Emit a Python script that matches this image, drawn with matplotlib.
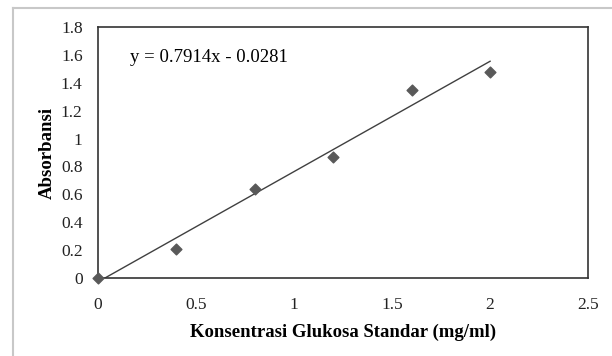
import matplotlib
matplotlib.use("Agg")
import matplotlib.pyplot as plt
from matplotlib.lines import Line2D
import numpy as np

conc = [0.0, 0.4, 0.8, 1.2, 1.6, 2.0]
absorb = [0.0, 0.21, 0.635, 0.865, 1.345, 1.48]
slope = 0.7914
intercept = -0.0281
xticks = [0, 0.5, 1, 1.5, 2, 2.5]
yticks = [0, 0.2, 0.4, 0.6, 0.8, 1, 1.2, 1.4, 1.6, 1.8]

plt.rcParams['font.family'] = ['Liberation Serif', 'DejaVu Serif']

fig = plt.figure(figsize=(6.12, 3.56), dpi=100)
ax = fig.add_axes([0.160, 0.219, 0.801, 0.705])

xl = np.array([0.0, 2.0])
ax.plot(xl, slope * xl + intercept, color='#404040', lw=1.0, zorder=2)
ax.scatter(conc, absorb, marker='D', s=30, color='#595959', zorder=3, clip_on=False)

ax.set_xlim(0, 2.5)
ax.set_ylim(0, 1.8)
ax.set_xticks(xticks)
ax.set_xticklabels([f"{v:g}" for v in xticks])
ax.set_yticks(yticks)
ax.set_yticklabels([f"{v:g}" for v in yticks])
ax.tick_params(length=0, labelsize=12.5, colors='#222222')
ax.tick_params(axis='y', pad=11)
ax.tick_params(axis='x', pad=14)
for s in ax.spines.values():
    s.set_color('#333333')
    s.set_linewidth(1.2)

ax.set_xlabel('Konsentrasi Glukosa Standar (mg/ml)', fontsize=13.5, fontweight='bold', labelpad=7)
ax.set_ylabel('Absorbansi', fontsize=13.5, fontweight='bold', labelpad=4)

ax.text(0.165, 1.58, f'y = {slope}x - {abs(intercept)}', fontsize=13.5, va='center', ha='left')

fig.add_artist(Line2D([13/612, 1.0], [1 - 7.5/356, 1 - 7.5/356], transform=fig.transFigure, color='#c8c8c8', lw=1.5))
fig.add_artist(Line2D([13/612, 13/612], [0, 1 - 7.5/356], transform=fig.transFigure, color='#c8c8c8', lw=1.5))

fig.savefig('out.png', dpi=100)
